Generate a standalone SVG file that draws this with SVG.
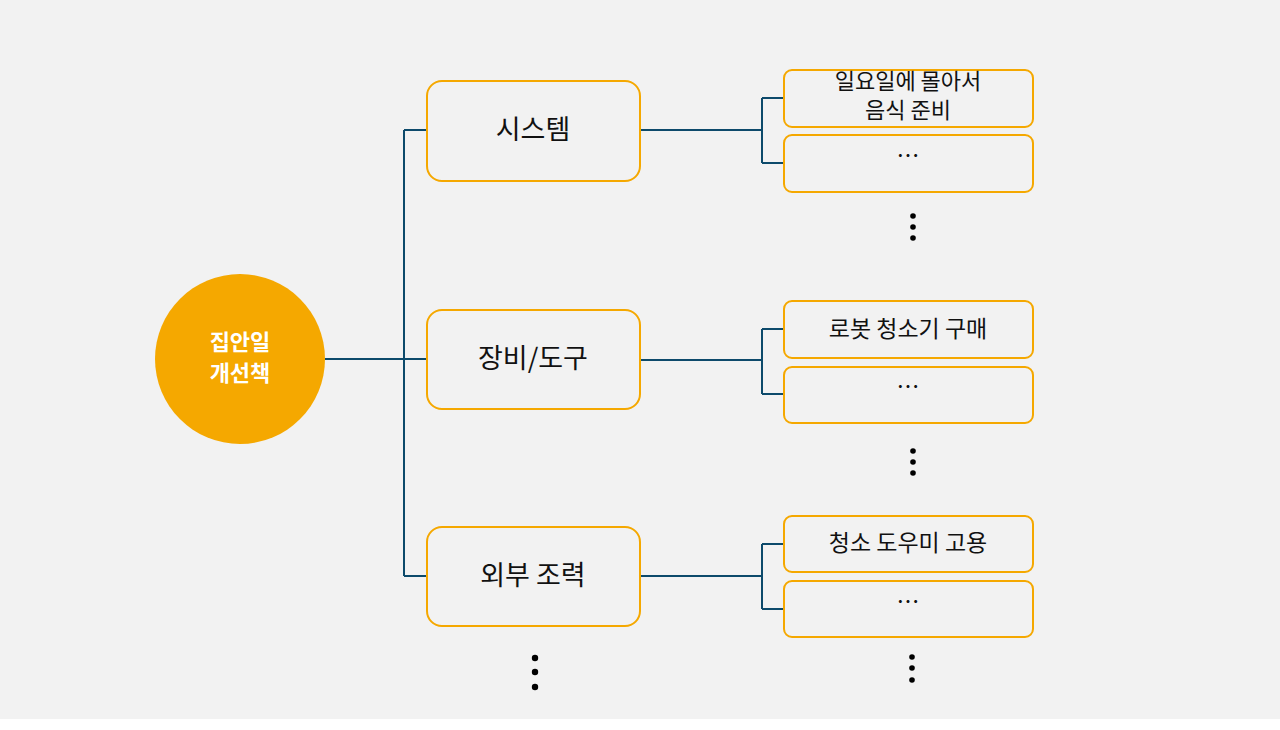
<svg xmlns="http://www.w3.org/2000/svg" width="1280" height="730" viewBox="0 0 1280 730">
<style>
.mid{fill:#f2f2f2;stroke:#f5a800;stroke-width:2}
.leaf{fill:#f2f2f2;stroke:#f5a800;stroke-width:2}
.c{fill:none;stroke:#0d4a6b;stroke-width:2}
text{font-family:"Noto Sans CJK KR","Noto Sans",sans-serif;text-anchor:middle;fill:#111}
.m{font-size:27px}
.l{font-size:23px}
.l2{font-size:22px}
.dot{fill:#000}
</style>
<rect x="0" y="0" width="1280" height="719" fill="#f2f2f2"/>
<g id="connectors">
<path class="c" d="M325 359H427M404 130V576M404 130H427M404 576H427"/>
<path class="c" d="M640 130H762M762 98V163M762 98H784M762 163H784"/>
<path class="c" d="M640 360H762M762 329V394M762 329H784M762 394H784"/>
<path class="c" d="M640 576H762M762 544V609M762 544H784M762 609H784"/>
</g>
<g id="root"><circle cx="240" cy="359" r="85" fill="#f5a800"/>
<text x="240" y="350" font-size="22" font-weight="bold" style="fill:#fff">집안일</text>
<text x="240" y="381" font-size="22" font-weight="bold" style="fill:#fff">개선책</text></g>
<g id="n1"><rect class="mid" x="427" y="81" width="213" height="100" rx="15"/><text class="m" x="533" y="139">시스템</text></g>
<g id="n2"><rect class="mid" x="427" y="310" width="213" height="99" rx="15"/><text class="m" x="533" y="368">장비/도구</text></g>
<g id="n3"><rect class="mid" x="427" y="527" width="213" height="99" rx="15"/><text class="m" x="533" y="585">외부 조력</text></g>
<g id="l1"><rect class="leaf" x="784" y="70" width="249" height="57" rx="8"/><text class="l2" x="908" y="89">일요일에 몰아서</text><text class="l2" x="908" y="118">음식 준비</text></g>
<g id="l2"><rect class="leaf" x="784" y="135" width="249" height="57" rx="8"/><text class="l" x="908" y="164">…</text></g>
<g id="l3"><rect class="leaf" x="784" y="301" width="249" height="57" rx="8"/><text class="l" x="908" y="337">로봇 청소기 구매</text></g>
<g id="l4"><rect class="leaf" x="784" y="367" width="249" height="56" rx="8"/><text class="l" x="908" y="395">…</text></g>
<g id="l5"><rect class="leaf" x="784" y="516" width="249" height="56" rx="8"/><text class="l" x="908" y="551">청소 도우미 고용</text></g>
<g id="l6"><rect class="leaf" x="784" y="581" width="249" height="56" rx="8"/><text class="l" x="908" y="610">…</text></g>
<g id="dots">
<circle class="dot" cx="913" cy="216" r="2.8"/><circle class="dot" cx="913" cy="227" r="2.8"/><circle class="dot" cx="913" cy="238" r="2.8"/>
<circle class="dot" cx="913" cy="451" r="2.8"/><circle class="dot" cx="913" cy="462" r="2.8"/><circle class="dot" cx="913" cy="473" r="2.8"/>
<circle class="dot" cx="912" cy="657" r="2.8"/><circle class="dot" cx="912" cy="668" r="2.8"/><circle class="dot" cx="912" cy="680" r="2.8"/>
<circle class="dot" cx="535" cy="658" r="3.2"/><circle class="dot" cx="535" cy="672" r="3.2"/><circle class="dot" cx="535" cy="687" r="3.2"/>
</g>
</svg>
